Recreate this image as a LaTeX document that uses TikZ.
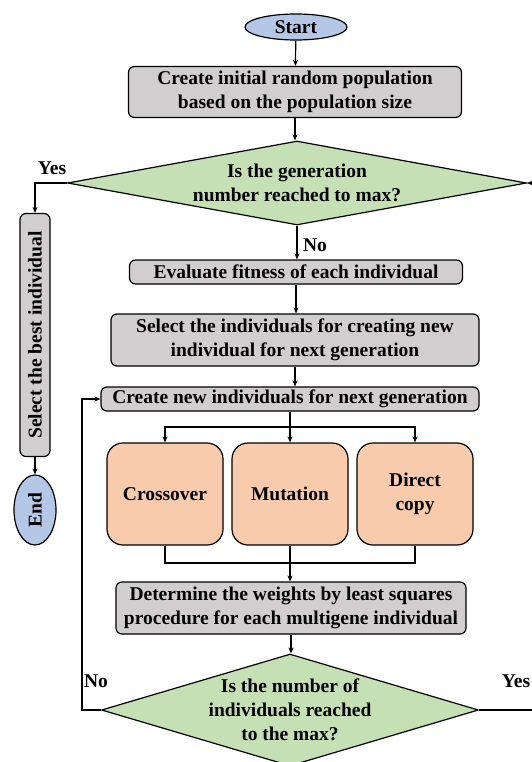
\documentclass[tikz,border=0pt]{standalone}
\usepackage{fontspec}
\setmainfont{Liberation Serif}
\usetikzlibrary{shapes.geometric,arrows.meta}

\definecolor{termblue}{RGB}{180,199,231}
\definecolor{procgray}{RGB}{208,206,206}
\definecolor{decgreen}{RGB}{197,224,180}
\definecolor{oporange}{RGB}{248,203,173}

\tikzset{
  base/.style={draw=black, line width=1.2pt, font=\bfseries\fontsize{19.5}{24}\selectfont, align=center, inner sep=0pt},
  terminal/.style={base, ellipse, fill=termblue},
  process/.style={base, rectangle, rounded corners=6pt, fill=procgray},
  decision/.style={base, diamond, fill=decgreen, inner sep=-14pt},
  operator/.style={base, rectangle, rounded corners=16pt, fill=oporange, minimum width=116pt, minimum height=102pt},
  flow/.style={line width=1.2pt, -{Stealth[length=6pt,width=5pt]}},
  link/.style={line width=1.2pt},
  lbl/.style={font=\bfseries\fontsize{19.5}{24}\selectfont}
}

\begin{document}
\begin{tikzpicture}[x=1pt,y=-1pt]
	\useasboundingbox (0,0) rectangle (532,762);
	% main column
	\node[terminal, minimum width=102pt, minimum height=26pt] (start) at (296,27) {Start};
	\node[process, minimum width=333pt, minimum height=51pt] (init) at (295,92) {Create initial random population\\based on the population size};
	\node[decision, minimum width=459pt, minimum height=84pt, aspect=5.46] (gen) at (297,183) {Is the generation\\number reached to max?};
	\node[process, minimum width=333pt, minimum height=24pt] (eval) at (296,272) {Evaluate fitness of each individual};
	\node[process, minimum width=368pt, minimum height=52pt] (sel) at (295,340) {Select the individuals for creating new\\individual for next generation};
	\node[process, minimum width=378pt, minimum height=24pt] (new) at (290,399) {Create new individuals for next generation};
	\node[operator] (cross) at (165,494) {Crossover};
	\node[operator] (mut) at (290,494) {Mutation};
	\node[operator] (copy) at (415,494) {Direct\\copy};
	\node[process, minimum width=350pt, minimum height=52pt] (weights) at (291,608) {Determine the weights by least squares\\procedure for each multigene individual};
	\node[decision, minimum width=377pt, minimum height=112pt, aspect=3.37] (num) at (290,710) {Is the number of\\individuals reached\\to the max?};
	% left column
	\node[process, rotate=90, minimum width=243pt, minimum height=30pt] (best) at (35,335) {Select the best individual};
	\node[terminal, rotate=90, minimum width=70pt, minimum height=42pt] (end) at (35,510) {End};
	% helper points
	\coordinate (split) at (290,427);
	\coordinate (join) at (290,563);
	\coordinate (loop) at (82,710);
	\coordinate (back) at (545,710);
	\coordinate (backtop) at (545,183);
	% connectors
	\draw[flow] (start) -- (init);
	\draw[flow] (init) -- (init.south |- gen.north);
	\draw[flow] (gen.west) -| (best.east);
	\draw[flow] (best) -- (end);
	\draw[flow] (gen.south) -- (gen.south |- eval.north);
	\draw[flow] (eval.south) -- (eval.south |- sel.north);
	\draw[flow] (sel.south) -- (sel.south |- new.north);
	\draw[link] (new.south) -- (split);
	\draw[flow] (split) -| (cross.north);
	\draw[flow] (split) -- (mut.north);
	\draw[flow] (split) -| (copy.north);
	\draw[link] (cross.south) |- (join);
	\draw[link] (copy.south) |- (join);
	\draw[link] (mut.south) -- (join);
	\draw[flow] (join) -- (join |- weights.north);
	\draw[flow] (weights.south) -- (weights.south |- num.north);
	\draw[flow] (num.west) -- (loop) |- (new.west);
	\draw[flow] (num.east) -- (back) -- (backtop) -- (gen.east);
	% labels
	\node[lbl] (yes1) at (52,168) {Yes};
	\node[lbl] (no1) at (315,245) {No};
	\node[lbl] (no2) at (96,681) {No};
	\node[lbl] (yes2) at (516,681) {Yes};
\end{tikzpicture}
\end{document}
